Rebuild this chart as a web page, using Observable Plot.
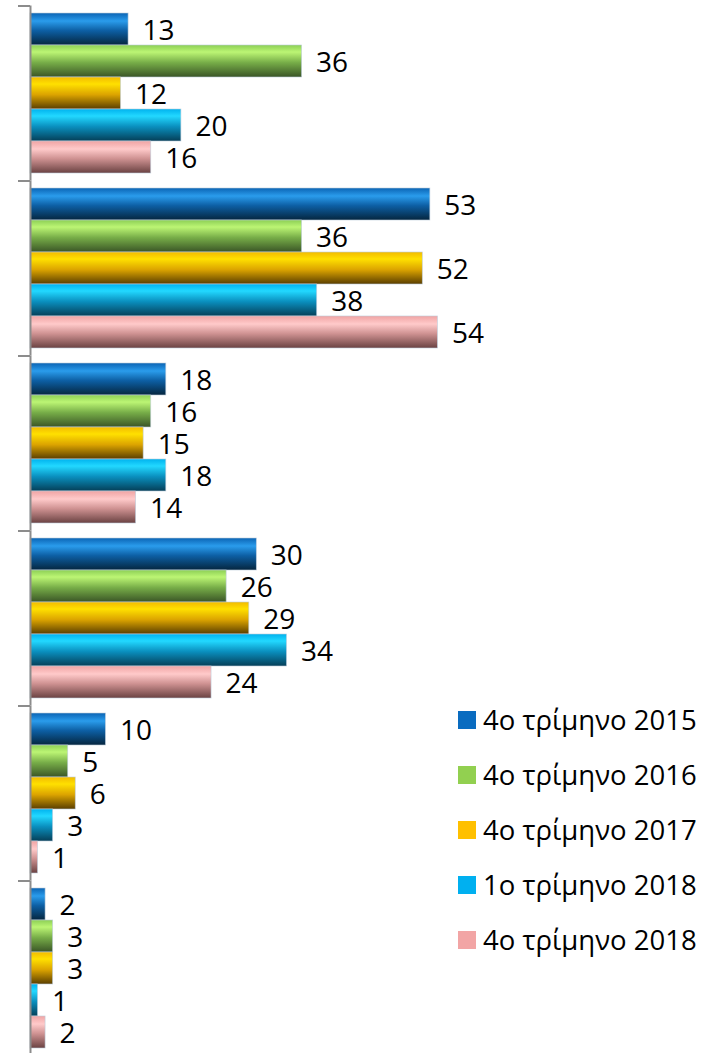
<!DOCTYPE html>
<html><head><meta charset="utf-8">
<script src="https://cdn.jsdelivr.net/npm/d3@7"></script>
<script src="https://cdn.jsdelivr.net/npm/@observablehq/plot@0.6"></script>
<style>
html,body{margin:0;padding:0;background:#fff;overflow:hidden;}
#wrap{position:relative;width:709px;height:1053px;overflow:hidden;}
#wrap svg{display:block;}
#legend{position:absolute;left:458px;top:0;font-family:"Open Sans",sans-serif;font-size:27.5px;color:#000;}
.item{position:absolute;left:0;display:flex;align-items:center;white-space:nowrap;height:30px;line-height:30px;}
.sw{width:18px;height:18px;margin-right:7px;flex:none;}
</style></head><body><div id="wrap"></div>
<script>
// Categories (group labels are not shown in the picture)
const groups = ["Ομάδα 1","Ομάδα 2","Ομάδα 3","Ομάδα 4","Ομάδα 5","Ομάδα 6"];
const series = ["4ο τρίμηνο 2015","4ο τρίμηνο 2016","4ο τρίμηνο 2017","1ο τρίμηνο 2018","4ο τρίμηνο 2018"];
// Series values, one per group
const q4_2015 = [13,53,18,30,10,2];
const q4_2016 = [36,36,16,26,5,3];
const q4_2017 = [12,52,15,29,6,3];
const q1_2018 = [20,38,18,34,3,1];
const q4_2018 = [16,54,14,24,1,2];
const seriesValues = [q4_2015,q4_2016,q4_2017,q1_2018,q4_2018];
// Colours
const legendColors = ["#0a6cc0","#92d050","#ffc000","#00b0f0","#f2a5a5"];
const gradients = [
  [["0","#0b64b4"],["0.25","#2a9cec"],["0.55","#0d5fa4"],["1","#05263f"]],
  [["0","#8ccf55"],["0.22","#bcf574"],["0.55","#77ad48"],["1","#3a5526"]],
  [["0","#f2bb00"],["0.22","#ffe000"],["0.55","#dca400"],["1","#5a3e00"]],
  [["0","#00b2ee"],["0.22","#22d8ff"],["0.55","#0a8fbe"],["1","#053f58"]],
  [["0","#f0a4a4"],["0.25","#ffcaca"],["0.55","#cf9292"],["1","#6a4242"]]
];

const data = [];
groups.forEach((g,i)=>series.forEach((s,j)=>data.push({group:g, series:s, value:seriesValues[j][i]})));

const chart = Plot.plot({
  width:709, height:1060,
  marginTop:5, marginBottom:5, marginLeft:30, marginRight:0,
  style:{background:"#fff", overflow:"visible"},
  x:{domain:[0,90], axis:null},
  y:{domain:series, axis:null, padding:0},
  fy:{domain:groups, axis:null, paddingInner:15/175, paddingOuter:7.5/175},
  color:{domain:series, range:series.map((s,j)=>`url(#grad${j})`)},
  marks:[
    Plot.barX(data,{fy:"group", y:"series", x:"value", fill:"series", stroke:"rgba(190,205,220,0.8)", strokeWidth:0.75}),
    Plot.text(data,{fy:"group", y:"series", x:"value", text:d=>String(d.value), textAnchor:"start", dx:14, dy:2, fontSize:28, fontFamily:"Open Sans", fill:"#000"}),
    Plot.ruleX([0],{stroke:"#8c8c8c", strokeWidth:2, insetTop:-7.5, insetBottom:-7.5}),
    Plot.ruleY([series[0]],{x1:0, x2:0, insetLeft:-12, dy:-23.5, stroke:"#8c8c8c", strokeWidth:2})
  ]
});

const svg = d3.select(chart);
const defs = svg.insert("defs",":first-child");
gradients.forEach((stops,j)=>{
  const lg = defs.append("linearGradient").attr("id",`grad${j}`).attr("x1",0).attr("y1",0).attr("x2",0).attr("y2",1);
  stops.forEach(([o,c])=>lg.append("stop").attr("offset",o).attr("stop-color",c));
});

const wrap = document.getElementById("wrap");
wrap.appendChild(chart);
const legend = document.createElement("div");
legend.id = "legend";
series.forEach((s,j)=>{
  const item = document.createElement("div");
  item.className = "item";
  item.style.top = (705 + j*55) + "px";
  const sw = document.createElement("div");
  sw.className = "sw";
  sw.style.background = legendColors[j];
  const t = document.createElement("span");
  t.textContent = s;
  item.appendChild(sw); item.appendChild(t);
  legend.appendChild(item);
});
wrap.appendChild(legend);
</script></body></html>
